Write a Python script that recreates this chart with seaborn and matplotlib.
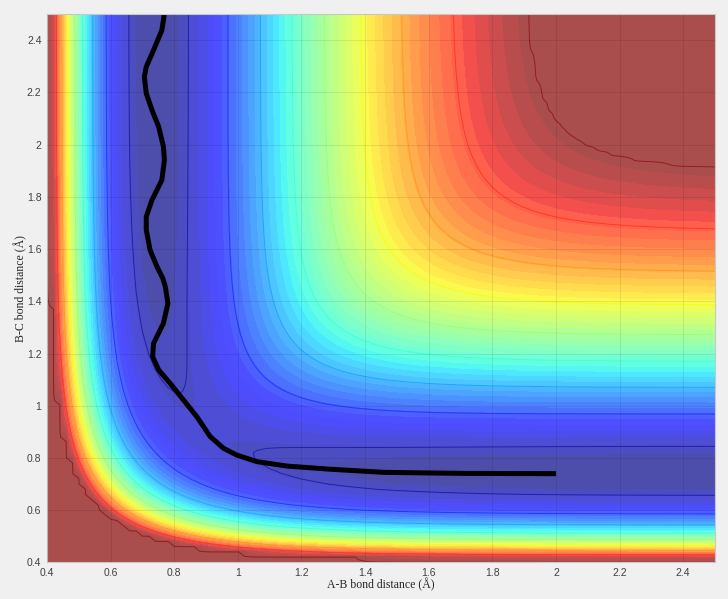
import numpy as np
import pandas as pd
import matplotlib
matplotlib.use("Agg")
import matplotlib.pyplot as plt
from matplotlib.colors import ListedColormap
import seaborn as sns

# LEPS surface parameters for H + H2 (kJ/mol, Angstrom)
De = 458.2
re = 0.742
beta = 1.942
sato = 0.19
v_clip = -92.0          # energies above this are drawn flat (dark red)
line_levels = [-443, -400, -356, -312, -269, -225, -182, -138, -92.5]
n_fill_per_line = 5

# trajectory (A-B distance, B-C distance)
traj_ab = [2.000, 1.711, 1.459, 1.291, 1.155, 1.060, 0.997, 0.955, 0.913, 0.871,
           0.829, 0.787, 0.751, 0.732, 0.735, 0.766, 0.780, 0.772, 0.764, 0.746,
           0.724, 0.712, 0.712, 0.730, 0.761, 0.769, 0.766, 0.751, 0.730, 0.712,
           0.706, 0.712, 0.735, 0.761, 0.769]
traj_bc = [0.740, 0.741, 0.745, 0.757, 0.769, 0.786, 0.811, 0.837, 0.882, 0.958,
           1.022, 1.086, 1.137, 1.188, 1.239, 1.316, 1.392, 1.456, 1.488, 1.532,
           1.596, 1.673, 1.724, 1.788, 1.864, 1.941, 1.992, 2.068, 2.132, 2.196,
           2.260, 2.298, 2.362, 2.438, 2.502]

tick_vals = [0.4, 0.6, 0.8, 1.0, 1.2, 1.4, 1.6, 1.8, 2.0, 2.2, 2.4]
tick_text = ["0.4", "0.6", "0.8", "1", "1.2", "1.4", "1.6", "1.8", "2", "2.2", "2.4"]


def coulomb_exchange(r):
    e1 = np.exp(-beta * (r - re))
    e2 = e1 ** 2
    q = De / 4 * ((3 + sato) * e2 - (2 + 6 * sato) * e1) / (1 + sato)
    j = De / 4 * ((1 + 3 * sato) * e2 - (6 + 2 * sato) * e1) / (1 + sato)
    return q, j


grid = np.arange(0.4, 2.5001, 0.02)
R1, R2 = np.meshgrid(grid, grid)
q1, j1 = coulomb_exchange(R1)
q2, j2 = coulomb_exchange(R2)
q3, j3 = coulomb_exchange(R1 + R2)
V = q1 + q2 + q3 - np.sqrt(0.5 * ((j1 - j2) ** 2 + (j2 - j3) ** 2 + (j3 - j1) ** 2))
V = np.minimum(V, v_clip)

v_min = -De
step = (line_levels[1] - line_levels[0]) / n_fill_per_line
fill_levels = np.arange(v_min, v_clip, step)
fill_levels = np.append(fill_levels, v_clip + 0.01)
fill_levels[0] = min(V.min(), v_min) - 1

jet = plt.get_cmap("jet")
soft_jet = ListedColormap(jet(np.linspace(0, 1, 256))[:, :3] * 0.7 + 0.3)

sns.set_style("white")
fig = plt.figure(figsize=(7.28, 5.99), dpi=100, facecolor="#f0f0f0")
ax = fig.add_axes([0.0646, 0.061, 0.9175, 0.9156])
ax.set_facecolor("white")

ax.contourf(R1, R2, V, levels=fill_levels, cmap=soft_jet, vmin=v_min, vmax=v_clip,
            antialiased=False)
ax.contour(R1, R2, V, levels=line_levels, cmap=jet, vmin=v_min, vmax=v_clip,
           linewidths=0.7, alpha=0.6)

traj = pd.DataFrame({"ab": traj_ab, "bc": traj_bc})
sns.lineplot(data=traj, x="ab", y="bc", sort=False, estimator=None, color="black",
             lw=3.6, ax=ax, solid_capstyle="butt", solid_joinstyle="round")

ax.set_xlim(0.4, 2.5)
ax.set_ylim(0.4, 2.5)
ax.set_xticks(tick_vals)
ax.set_xticklabels(tick_text, family="Liberation Sans")
ax.set_yticks(tick_vals)
ax.set_yticklabels(tick_text, family="Liberation Sans")
ax.tick_params(direction="in", length=4, width=0.6, colors="#404040", labelsize=7.5,
               pad=4)
ax.grid(True, color="black", alpha=0.1, lw=0.6)
ax.set_axisbelow(False)
for s in ax.spines.values():
    s.set_color("#c8c8c8")
    s.set_linewidth(0.8)

serif = ["Liberation Serif", "DejaVu Serif"]
ax.set_xlabel("A-B bond distance (Å)", family=serif, fontsize=8.5, color="#262626",
              labelpad=0)
ax.set_ylabel("B-C bond distance (Å)", family=serif, fontsize=8.5, color="#262626",
              labelpad=0)

fig.savefig("out.png", dpi=100, facecolor=fig.get_facecolor())
